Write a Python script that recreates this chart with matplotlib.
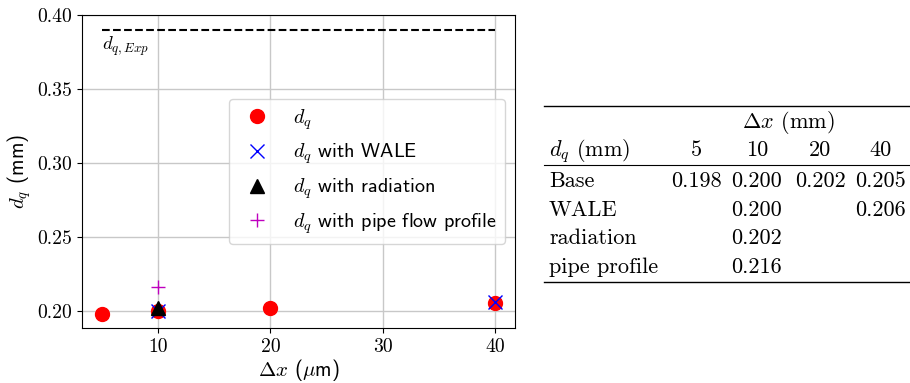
import matplotlib
matplotlib.use("Agg")
import matplotlib.pyplot as plt

plt.rcParams["mathtext.fontset"] = "cm"
plt.rcParams["axes.unicode_minus"] = False
plt.rcParams["font.size"] = 14

# Quenching distance results, grid spacing in micrometres
dx_base = [5, 10, 20, 40]
dq_base = [0.198, 0.200, 0.202, 0.205]
dx_wale = [10, 40]
dq_wale = [0.200, 0.206]
dx_rad = [10]
dq_rad = [0.202]
dx_pipe = [10]
dq_pipe = [0.216]
dq_exp = 0.39

# Table contents
table_cols = [5, 10, 20, 40]
table_rows = ["Base", "WALE", "radiation", "pipe profile"]
table_vals = [
    ["0.198", "0.200", "0.202", "0.205"],
    ["", "0.200", "", "0.206"],
    ["", "0.202", "", ""],
    ["", "0.216", "", ""],
]

W, H = 910, 383
fig = plt.figure(figsize=(W / 100, H / 100), dpi=100)
ax = fig.add_axes([82 / W, 1 - 328 / H, (515 - 82) / W, (328 - 15) / H])

ax.plot(dx_base, dq_base, "o", color="red", markersize=10, linestyle="none", label="$d_q$")
ax.plot(dx_wale, dq_wale, "x", color="blue", markersize=10, linestyle="none", label="$d_q$ with WALE")
ax.plot(dx_rad, dq_rad, "^", color="black", markersize=10, linestyle="none", label="$d_q$ with radiation")
ax.plot(dx_pipe, dq_pipe, "+", color="m", markersize=10, linestyle="none", label="$d_q$ with pipe flow profile")
ax.hlines(dq_exp, min(dx_base), max(dx_base), colors="black", linestyles="--", linewidth=1.5)
ax.text(min(dx_base), dq_exp - 0.003, "$d_{q,Exp}$", ha="left", va="top", fontsize=13.5)

ax.set_ylim(top=0.40)
ax.set_xticks([10, 20, 30, 40])
ax.set_yticks([0.20, 0.25, 0.30, 0.35, 0.40])
ax.set_yticklabels([f"{v:.2f}" for v in [0.20, 0.25, 0.30, 0.35, 0.40]])
for lab in ax.get_xticklabels() + ax.get_yticklabels():
    lab.set_fontfamily("cmr10")
    lab.set_fontsize(14.2)
ax.grid(True, color="#c8c8c8", linewidth=1.0)
ax.set_axisbelow(True)
ax.set_xlabel(r"$\Delta x$ ($\mu$m)", fontfamily="cmss10", fontsize=15, labelpad=1)
ax.set_ylabel(r"$d_q$ (mm)", fontfamily="cmss10", fontsize=15, labelpad=3)

leg = ax.legend(loc="center right", prop={"family": "cmss10", "size": 14.5})

# Booktabs-style table on the right
tx0, tx1 = 544 / W, 1.0
def fy(py):
    return 1 - py / H

TS = 16
col_x = [696, 757, 820, 881]
fig.add_artist(plt.Line2D([tx0, tx1], [fy(106), fy(106)], color="black", linewidth=1.0))
fig.add_artist(plt.Line2D([tx0, tx1], [fy(165), fy(165)], color="black", linewidth=0.8))
fig.add_artist(plt.Line2D([tx0, tx1], [fy(282), fy(282)], color="black", linewidth=1.0))

fig.text(788 / W, fy(122), r"$\mathit{\Delta}x$ (mm)", ha="center", va="center",
         fontfamily="cmr10", fontsize=TS)
fig.text(549 / W, fy(151), r"$d_q$ (mm)", ha="left", va="center",
         fontfamily="cmr10", fontsize=TS)
for cx, c in zip(col_x, table_cols):
    fig.text(cx / W, fy(150), str(c), ha="center", va="center", fontfamily="cmr10", fontsize=TS)

row_y = [181, 210, 238, 267]
for ry, name, vals in zip(row_y, table_rows, table_vals):
    fig.text(549 / W, fy(ry), name, ha="left", va="center", fontfamily="cmr10", fontsize=TS)
    for cx, v in zip(col_x, vals):
        if v:
            fig.text(cx / W, fy(ry), v, ha="center", va="center", fontfamily="cmr10", fontsize=TS)

fig.savefig("out.png", dpi=100)
